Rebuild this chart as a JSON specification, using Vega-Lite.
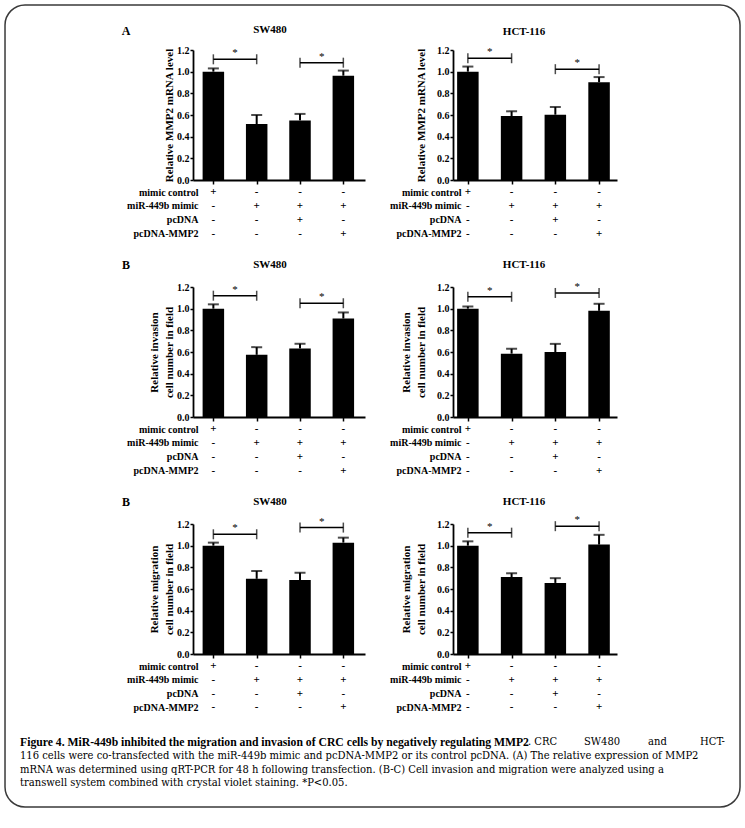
{
  "$schema": "https://vega.github.io/schema/vega-lite/v6.json",
  "padding": {"left": 4, "top": 4, "right": 4, "bottom": 4},
  "autosize": {"type": "pad"},
  "background": "white",
  "config": {
    "view": {"stroke": null},
    "font": "Liberation Serif",
    "axis": {"grid": false, "labelOverlap": false, "labelFlush": false, "domainColor": "black", "tickColor": "black", "labelColor": "black", "titleColor": "black", "labelFont": "Liberation Serif", "titleFont": "Liberation Serif", "labelFontWeight": "bold", "titleFontWeight": "bold", "labelFontSize": 10, "titleFontSize": 11, "domainWidth": 1.8, "tickWidth": 1.5, "titleLineHeight": 15},
    "axisY": {"tickSize": 3, "labelPadding": 1},
    "text": {"font": "Liberation Serif", "color": "black"},
    "tick": {"color": "black"}
  },
  "datasets": {
    "bars": [
      {"panel": "A-SW", "group": 1, "mean": 1.0, "upper": 1.03},
      {"panel": "A-SW", "group": 2, "mean": 0.517, "upper": 0.6},
      {"panel": "A-SW", "group": 3, "mean": 0.55, "upper": 0.61},
      {"panel": "A-SW", "group": 4, "mean": 0.963, "upper": 1.01},
      {"panel": "A-HCT", "group": 1, "mean": 1.0, "upper": 1.047},
      {"panel": "A-HCT", "group": 2, "mean": 0.59, "upper": 0.634},
      {"panel": "A-HCT", "group": 3, "mean": 0.603, "upper": 0.674},
      {"panel": "A-HCT", "group": 4, "mean": 0.903, "upper": 0.95},
      {"panel": "B-SW", "group": 1, "mean": 1.0, "upper": 1.04},
      {"panel": "B-SW", "group": 2, "mean": 0.574, "upper": 0.645},
      {"panel": "B-SW", "group": 3, "mean": 0.633, "upper": 0.676},
      {"panel": "B-SW", "group": 4, "mean": 0.909, "upper": 0.965},
      {"panel": "B-HCT", "group": 1, "mean": 1.0, "upper": 1.02},
      {"panel": "B-HCT", "group": 2, "mean": 0.585, "upper": 0.63},
      {"panel": "B-HCT", "group": 3, "mean": 0.6, "upper": 0.675},
      {"panel": "B-HCT", "group": 4, "mean": 0.98, "upper": 1.045},
      {"panel": "C-SW", "group": 1, "mean": 1.0, "upper": 1.028},
      {"panel": "C-SW", "group": 2, "mean": 0.694, "upper": 0.766},
      {"panel": "C-SW", "group": 3, "mean": 0.682, "upper": 0.75},
      {"panel": "C-SW", "group": 4, "mean": 1.028, "upper": 1.074},
      {"panel": "C-HCT", "group": 1, "mean": 1.0, "upper": 1.04},
      {"panel": "C-HCT", "group": 2, "mean": 0.71, "upper": 0.745},
      {"panel": "C-HCT", "group": 3, "mean": 0.656, "upper": 0.7},
      {"panel": "C-HCT", "group": 4, "mean": 1.01, "upper": 1.1}
    ],
    "brackets": [
      {"panel": "A-SW", "from": 1, "to": 2, "level": 1.114},
      {"panel": "A-SW", "from": 3, "to": 4, "level": 1.083},
      {"panel": "A-HCT", "from": 1, "to": 2, "level": 1.124},
      {"panel": "A-HCT", "from": 3, "to": 4, "level": 1.023},
      {"panel": "B-SW", "from": 1, "to": 2, "level": 1.12},
      {"panel": "B-SW", "from": 3, "to": 4, "level": 1.05},
      {"panel": "B-HCT", "from": 1, "to": 2, "level": 1.11},
      {"panel": "B-HCT", "from": 3, "to": 4, "level": 1.145},
      {"panel": "C-SW", "from": 1, "to": 2, "level": 1.105},
      {"panel": "C-SW", "from": 3, "to": 4, "level": 1.167},
      {"panel": "C-HCT", "from": 1, "to": 2, "level": 1.12},
      {"panel": "C-HCT", "from": 3, "to": 4, "level": 1.18}
    ],
    "design": [
      {"group": 1, "factor": "mimic control", "sign": "+"},
      {"group": 1, "factor": "miR-449b mimic", "sign": "-"},
      {"group": 1, "factor": "pcDNA", "sign": "-"},
      {"group": 1, "factor": "pcDNA-MMP2", "sign": "-"},
      {"group": 2, "factor": "mimic control", "sign": "-"},
      {"group": 2, "factor": "miR-449b mimic", "sign": "+"},
      {"group": 2, "factor": "pcDNA", "sign": "-"},
      {"group": 2, "factor": "pcDNA-MMP2", "sign": "-"},
      {"group": 3, "factor": "mimic control", "sign": "-"},
      {"group": 3, "factor": "miR-449b mimic", "sign": "+"},
      {"group": 3, "factor": "pcDNA", "sign": "+"},
      {"group": 3, "factor": "pcDNA-MMP2", "sign": "-"},
      {"group": 4, "factor": "mimic control", "sign": "-"},
      {"group": 4, "factor": "miR-449b mimic", "sign": "+"},
      {"group": 4, "factor": "pcDNA", "sign": "-"},
      {"group": 4, "factor": "pcDNA-MMP2", "sign": "+"}
    ],
    "caption": [
      {"line": 1, "part": "bold", "text": "Figure 4. MiR-449b inhibited the migration and invasion of CRC cells by negatively regulating MMP2"},
      {"line": 1, "part": "t1", "text": ". CRC"},
      {"line": 1, "part": "t2", "text": "SW480"},
      {"line": 1, "part": "t3", "text": "and"},
      {"line": 1, "part": "t4", "text": "HCT-"},
      {"line": 2, "part": "plain", "text": "116 cells were co-transfected with the miR-449b mimic and pcDNA-MMP2 or its control pcDNA. (A) The relative expression of MMP2"},
      {"line": 3, "part": "plain", "text": "mRNA was determined using qRT-PCR for 48 h following transfection. (B-C) Cell invasion and migration were analyzed using a"},
      {"line": 4, "part": "plain", "text": "transwell system combined with crystal violet staining. *P<0.05."}
    ]
  },
  "concat": [
    {
      "width": 172, "height": 130,
      "layer": [
        {"data": {"name": "bars"}, "transform": [{"filter": "datum.panel === 'A-SW'"}],
         "mark": {"type": "bar", "width": 21.5, "color": "black"},
         "encoding": {
           "x": {"field": "group", "type": "quantitative", "scale": {"domain": [0.53, 4.5], "nice": false, "zero": false, "padding": 0}, "axis": {"values": [1, 2, 3, 4], "tickCount": 10, "labels": false, "title": null, "tickSize": 4}},
           "y": {"field": "mean", "type": "quantitative", "scale": {"domain": [0, 1.2], "nice": false, "padding": 0}, "axis": {"values": [0, 0.2, 0.4, 0.6, 0.8, 1, 1.2], "tickCount": 10, "labelOverlap": false, "format": ".1f", "title": "Relative MMP2 mRNA level", "titlePadding": 2}}}},
        {"data": {"name": "bars"}, "transform": [{"filter": "datum.panel === 'A-SW'"}],
         "mark": {"type": "rule", "strokeWidth": 2, "color": "black"},
         "encoding": {"x": {"field": "group", "type": "quantitative"}, "y": {"field": "mean", "type": "quantitative"}, "y2": {"field": "upper"}}},
        {"data": {"name": "bars"}, "transform": [{"filter": "datum.panel === 'A-SW'"}],
         "mark": {"type": "tick", "orient": "horizontal", "size": 11, "thickness": 2, "color": "black"},
         "encoding": {"x": {"field": "group", "type": "quantitative"}, "y": {"field": "upper", "type": "quantitative"}}},
        {"data": {"name": "brackets"}, "transform": [{"filter": "datum.panel === 'A-SW'"}],
         "mark": {"type": "rule", "strokeWidth": 1.5, "color": "black"},
         "encoding": {"x": {"field": "from", "type": "quantitative"}, "x2": {"field": "to"}, "y": {"field": "level", "type": "quantitative"}}},
        {"data": {"name": "brackets"}, "transform": [{"filter": "datum.panel === 'A-SW'"}, {"fold": ["from", "to"], "as": ["end", "xpos"]}],
         "mark": {"type": "tick", "orient": "vertical", "size": 10, "thickness": 1.5, "color": "black"},
         "encoding": {"x": {"field": "xpos", "type": "quantitative"}, "y": {"field": "level", "type": "quantitative"}}},
        {"data": {"name": "brackets"}, "transform": [{"filter": "datum.panel === 'A-SW'"}, {"fold": ["from", "to"], "as": ["end", "xpos"]}],
         "mark": {"type": "text", "text": "*", "fontSize": 11, "dy": -6},
         "encoding": {"x": {"aggregate": "mean", "field": "xpos", "type": "quantitative"}, "y": {"field": "level", "type": "quantitative"}}},
        {"data": {"values": [{}]}, "mark": {"type": "text", "text": "SW480", "fontSize": 11, "fontWeight": "bold"},
         "encoding": {"x": {"datum": 2.307}, "y": {"datum": 1.385}}},
        {"data": {"values": [{}]}, "mark": {"type": "text", "text": "A", "fontSize": 12, "fontWeight": "bold"},
         "encoding": {"x": {"datum": -1.016}, "y": {"datum": 1.375}}},
        {"data": {"values": [{}]}, "mark": {"type": "rect", "filled": false, "stroke": "#3a3a3a", "strokeWidth": 1.5, "cornerRadius": 20},
         "encoding": {"x": {"datum": -3.809}, "x2": {"datum": 13.156}, "y": {"datum": 1.6154}, "y2": {"datum": -5.7877}}}
      ]
    },
    {
      "width": 164, "height": 130,
      "layer": [
        {"data": {"name": "bars"}, "transform": [{"filter": "datum.panel === 'A-HCT'"}],
         "mark": {"type": "bar", "width": 21.5, "color": "black"},
         "encoding": {
           "x": {"field": "group", "type": "quantitative", "scale": {"domain": [0.66, 4.41], "nice": false, "zero": false, "padding": 0}, "axis": {"values": [1, 2, 3, 4], "tickCount": 10, "labels": false, "title": null, "tickSize": 4}},
           "y": {"field": "mean", "type": "quantitative", "scale": {"domain": [0, 1.2], "nice": false, "padding": 0}, "axis": {"values": [0, 0.2, 0.4, 0.6, 0.8, 1, 1.2], "tickCount": 10, "labelOverlap": false, "format": ".1f", "title": "Relative MMP2 mRNA level", "titlePadding": 10}}}},
        {"data": {"name": "bars"}, "transform": [{"filter": "datum.panel === 'A-HCT'"}],
         "mark": {"type": "rule", "strokeWidth": 2, "color": "black"},
         "encoding": {"x": {"field": "group", "type": "quantitative"}, "y": {"field": "mean", "type": "quantitative"}, "y2": {"field": "upper"}}},
        {"data": {"name": "bars"}, "transform": [{"filter": "datum.panel === 'A-HCT'"}],
         "mark": {"type": "tick", "orient": "horizontal", "size": 11, "thickness": 2, "color": "black"},
         "encoding": {"x": {"field": "group", "type": "quantitative"}, "y": {"field": "upper", "type": "quantitative"}}},
        {"data": {"name": "brackets"}, "transform": [{"filter": "datum.panel === 'A-HCT'"}],
         "mark": {"type": "rule", "strokeWidth": 1.5, "color": "black"},
         "encoding": {"x": {"field": "from", "type": "quantitative"}, "x2": {"field": "to"}, "y": {"field": "level", "type": "quantitative"}}},
        {"data": {"name": "brackets"}, "transform": [{"filter": "datum.panel === 'A-HCT'"}, {"fold": ["from", "to"], "as": ["end", "xpos"]}],
         "mark": {"type": "tick", "orient": "vertical", "size": 10, "thickness": 1.5, "color": "black"},
         "encoding": {"x": {"field": "xpos", "type": "quantitative"}, "y": {"field": "level", "type": "quantitative"}}},
        {"data": {"name": "brackets"}, "transform": [{"filter": "datum.panel === 'A-HCT'"}, {"fold": ["from", "to"], "as": ["end", "xpos"]}],
         "mark": {"type": "text", "text": "*", "fontSize": 11, "dy": -6},
         "encoding": {"x": {"aggregate": "mean", "field": "xpos", "type": "quantitative"}, "y": {"field": "level", "type": "quantitative"}}},
        {"data": {"values": [{}]}, "mark": {"type": "text", "text": "HCT-116", "fontSize": 11, "fontWeight": "bold"},
         "encoding": {"x": {"datum": 2.284}, "y": {"datum": 1.37}}}
      ]
    },
    {
      "width": 172, "height": 83, "data": {"name": "design"},
      "mark": {"type": "text", "fontSize": 11, "fontWeight": "bold"},
      "encoding": {
        "x": {"field": "group", "type": "quantitative", "scale": {"domain": [0.53, 4.5], "nice": false, "zero": false, "padding": 0}, "axis": null},
        "y": {"field": "factor", "type": "nominal", "scale": {"type": "point", "domain": ["mimic control", "miR-449b mimic", "pcDNA", "pcDNA-MMP2", " ", "  ", "   "], "padding": 0, "align": 0}, "axis": {"title": null, "domain": false, "ticks": false, "tickSize": 0, "labelPadding": -5}},
        "text": {"field": "sign"}
      }
    },
    {
      "width": 164, "height": 83, "data": {"name": "design"},
      "mark": {"type": "text", "fontSize": 11, "fontWeight": "bold"},
      "encoding": {
        "x": {"field": "group", "type": "quantitative", "scale": {"domain": [0.66, 4.41], "nice": false, "zero": false, "padding": 0}, "axis": null},
        "y": {"field": "factor", "type": "nominal", "scale": {"type": "point", "domain": ["mimic control", "miR-449b mimic", "pcDNA", "pcDNA-MMP2", " ", "  ", "   "], "padding": 0, "align": 0}, "axis": {"title": null, "domain": false, "ticks": false, "tickSize": 0, "labelPadding": -8}},
        "text": {"field": "sign"}
      }
    },
    {
      "width": 172, "height": 130,
      "layer": [
        {"data": {"name": "bars"}, "transform": [{"filter": "datum.panel === 'B-SW'"}],
         "mark": {"type": "bar", "width": 21.5, "color": "black"},
         "encoding": {
           "x": {"field": "group", "type": "quantitative", "scale": {"domain": [0.53, 4.5], "nice": false, "zero": false, "padding": 0}, "axis": {"values": [1, 2, 3, 4], "tickCount": 10, "labels": false, "title": null, "tickSize": 4}},
           "y": {"field": "mean", "type": "quantitative", "scale": {"domain": [0, 1.2], "nice": false, "padding": 0}, "axis": {"values": [0, 0.2, 0.4, 0.6, 0.8, 1, 1.2], "tickCount": 10, "labelOverlap": false, "format": ".1f", "title": ["Relative invasion", "cell number in field"], "titlePadding": 2}}}},
        {"data": {"name": "bars"}, "transform": [{"filter": "datum.panel === 'B-SW'"}],
         "mark": {"type": "rule", "strokeWidth": 2, "color": "black"},
         "encoding": {"x": {"field": "group", "type": "quantitative"}, "y": {"field": "mean", "type": "quantitative"}, "y2": {"field": "upper"}}},
        {"data": {"name": "bars"}, "transform": [{"filter": "datum.panel === 'B-SW'"}],
         "mark": {"type": "tick", "orient": "horizontal", "size": 11, "thickness": 2, "color": "black"},
         "encoding": {"x": {"field": "group", "type": "quantitative"}, "y": {"field": "upper", "type": "quantitative"}}},
        {"data": {"name": "brackets"}, "transform": [{"filter": "datum.panel === 'B-SW'"}],
         "mark": {"type": "rule", "strokeWidth": 1.5, "color": "black"},
         "encoding": {"x": {"field": "from", "type": "quantitative"}, "x2": {"field": "to"}, "y": {"field": "level", "type": "quantitative"}}},
        {"data": {"name": "brackets"}, "transform": [{"filter": "datum.panel === 'B-SW'"}, {"fold": ["from", "to"], "as": ["end", "xpos"]}],
         "mark": {"type": "tick", "orient": "vertical", "size": 10, "thickness": 1.5, "color": "black"},
         "encoding": {"x": {"field": "xpos", "type": "quantitative"}, "y": {"field": "level", "type": "quantitative"}}},
        {"data": {"name": "brackets"}, "transform": [{"filter": "datum.panel === 'B-SW'"}, {"fold": ["from", "to"], "as": ["end", "xpos"]}],
         "mark": {"type": "text", "text": "*", "fontSize": 11, "dy": -6},
         "encoding": {"x": {"aggregate": "mean", "field": "xpos", "type": "quantitative"}, "y": {"field": "level", "type": "quantitative"}}},
        {"data": {"values": [{}]}, "mark": {"type": "text", "text": "SW480", "fontSize": 11, "fontWeight": "bold"},
         "encoding": {"x": {"datum": 2.307}, "y": {"datum": 1.4}}},
        {"data": {"values": [{}]}, "mark": {"type": "text", "text": "B", "fontSize": 12, "fontWeight": "bold"},
         "encoding": {"x": {"datum": -1.016}, "y": {"datum": 1.4}}}
      ]
    },
    {
      "width": 164, "height": 130,
      "layer": [
        {"data": {"name": "bars"}, "transform": [{"filter": "datum.panel === 'B-HCT'"}],
         "mark": {"type": "bar", "width": 21.5, "color": "black"},
         "encoding": {
           "x": {"field": "group", "type": "quantitative", "scale": {"domain": [0.66, 4.41], "nice": false, "zero": false, "padding": 0}, "axis": {"values": [1, 2, 3, 4], "tickCount": 10, "labels": false, "title": null, "tickSize": 4}},
           "y": {"field": "mean", "type": "quantitative", "scale": {"domain": [0, 1.2], "nice": false, "padding": 0}, "axis": {"values": [0, 0.2, 0.4, 0.6, 0.8, 1, 1.2], "tickCount": 10, "labelOverlap": false, "format": ".1f", "title": ["Relative invasion", "cell number in field"], "titlePadding": 10}}}},
        {"data": {"name": "bars"}, "transform": [{"filter": "datum.panel === 'B-HCT'"}],
         "mark": {"type": "rule", "strokeWidth": 2, "color": "black"},
         "encoding": {"x": {"field": "group", "type": "quantitative"}, "y": {"field": "mean", "type": "quantitative"}, "y2": {"field": "upper"}}},
        {"data": {"name": "bars"}, "transform": [{"filter": "datum.panel === 'B-HCT'"}],
         "mark": {"type": "tick", "orient": "horizontal", "size": 11, "thickness": 2, "color": "black"},
         "encoding": {"x": {"field": "group", "type": "quantitative"}, "y": {"field": "upper", "type": "quantitative"}}},
        {"data": {"name": "brackets"}, "transform": [{"filter": "datum.panel === 'B-HCT'"}],
         "mark": {"type": "rule", "strokeWidth": 1.5, "color": "black"},
         "encoding": {"x": {"field": "from", "type": "quantitative"}, "x2": {"field": "to"}, "y": {"field": "level", "type": "quantitative"}}},
        {"data": {"name": "brackets"}, "transform": [{"filter": "datum.panel === 'B-HCT'"}, {"fold": ["from", "to"], "as": ["end", "xpos"]}],
         "mark": {"type": "tick", "orient": "vertical", "size": 10, "thickness": 1.5, "color": "black"},
         "encoding": {"x": {"field": "xpos", "type": "quantitative"}, "y": {"field": "level", "type": "quantitative"}}},
        {"data": {"name": "brackets"}, "transform": [{"filter": "datum.panel === 'B-HCT'"}, {"fold": ["from", "to"], "as": ["end", "xpos"]}],
         "mark": {"type": "text", "text": "*", "fontSize": 11, "dy": -6},
         "encoding": {"x": {"aggregate": "mean", "field": "xpos", "type": "quantitative"}, "y": {"field": "level", "type": "quantitative"}}},
        {"data": {"values": [{}]}, "mark": {"type": "text", "text": "HCT-116", "fontSize": 11, "fontWeight": "bold"},
         "encoding": {"x": {"datum": 2.284}, "y": {"datum": 1.4}}}
      ]
    },
    {
      "width": 172, "height": 83, "data": {"name": "design"},
      "mark": {"type": "text", "fontSize": 11, "fontWeight": "bold"},
      "encoding": {
        "x": {"field": "group", "type": "quantitative", "scale": {"domain": [0.53, 4.5], "nice": false, "zero": false, "padding": 0}, "axis": null},
        "y": {"field": "factor", "type": "nominal", "scale": {"type": "point", "domain": ["mimic control", "miR-449b mimic", "pcDNA", "pcDNA-MMP2", " ", "  ", "   "], "padding": 0, "align": 0}, "axis": {"title": null, "domain": false, "ticks": false, "tickSize": 0, "labelPadding": -5}},
        "text": {"field": "sign"}
      }
    },
    {
      "width": 164, "height": 83, "data": {"name": "design"},
      "mark": {"type": "text", "fontSize": 11, "fontWeight": "bold"},
      "encoding": {
        "x": {"field": "group", "type": "quantitative", "scale": {"domain": [0.66, 4.41], "nice": false, "zero": false, "padding": 0}, "axis": null},
        "y": {"field": "factor", "type": "nominal", "scale": {"type": "point", "domain": ["mimic control", "miR-449b mimic", "pcDNA", "pcDNA-MMP2", " ", "  ", "   "], "padding": 0, "align": 0}, "axis": {"title": null, "domain": false, "ticks": false, "tickSize": 0, "labelPadding": -8}},
        "text": {"field": "sign"}
      }
    },
    {
      "width": 172, "height": 130,
      "layer": [
        {"data": {"name": "bars"}, "transform": [{"filter": "datum.panel === 'C-SW'"}],
         "mark": {"type": "bar", "width": 21.5, "color": "black"},
         "encoding": {
           "x": {"field": "group", "type": "quantitative", "scale": {"domain": [0.53, 4.5], "nice": false, "zero": false, "padding": 0}, "axis": {"values": [1, 2, 3, 4], "tickCount": 10, "labels": false, "title": null, "tickSize": 4}},
           "y": {"field": "mean", "type": "quantitative", "scale": {"domain": [0, 1.2], "nice": false, "padding": 0}, "axis": {"values": [0, 0.2, 0.4, 0.6, 0.8, 1, 1.2], "tickCount": 10, "labelOverlap": false, "format": ".1f", "title": ["Relative migration", "cell number in field"], "titlePadding": 2}}}},
        {"data": {"name": "bars"}, "transform": [{"filter": "datum.panel === 'C-SW'"}],
         "mark": {"type": "rule", "strokeWidth": 2, "color": "black"},
         "encoding": {"x": {"field": "group", "type": "quantitative"}, "y": {"field": "mean", "type": "quantitative"}, "y2": {"field": "upper"}}},
        {"data": {"name": "bars"}, "transform": [{"filter": "datum.panel === 'C-SW'"}],
         "mark": {"type": "tick", "orient": "horizontal", "size": 11, "thickness": 2, "color": "black"},
         "encoding": {"x": {"field": "group", "type": "quantitative"}, "y": {"field": "upper", "type": "quantitative"}}},
        {"data": {"name": "brackets"}, "transform": [{"filter": "datum.panel === 'C-SW'"}],
         "mark": {"type": "rule", "strokeWidth": 1.5, "color": "black"},
         "encoding": {"x": {"field": "from", "type": "quantitative"}, "x2": {"field": "to"}, "y": {"field": "level", "type": "quantitative"}}},
        {"data": {"name": "brackets"}, "transform": [{"filter": "datum.panel === 'C-SW'"}, {"fold": ["from", "to"], "as": ["end", "xpos"]}],
         "mark": {"type": "tick", "orient": "vertical", "size": 10, "thickness": 1.5, "color": "black"},
         "encoding": {"x": {"field": "xpos", "type": "quantitative"}, "y": {"field": "level", "type": "quantitative"}}},
        {"data": {"name": "brackets"}, "transform": [{"filter": "datum.panel === 'C-SW'"}, {"fold": ["from", "to"], "as": ["end", "xpos"]}],
         "mark": {"type": "text", "text": "*", "fontSize": 11, "dy": -6},
         "encoding": {"x": {"aggregate": "mean", "field": "xpos", "type": "quantitative"}, "y": {"field": "level", "type": "quantitative"}}},
        {"data": {"values": [{}]}, "mark": {"type": "text", "text": "SW480", "fontSize": 11, "fontWeight": "bold"},
         "encoding": {"x": {"datum": 2.307}, "y": {"datum": 1.4}}},
        {"data": {"values": [{}]}, "mark": {"type": "text", "text": "B", "fontSize": 12, "fontWeight": "bold"},
         "encoding": {"x": {"datum": -1.016}, "y": {"datum": 1.4}}}
      ]
    },
    {
      "width": 164, "height": 130,
      "layer": [
        {"data": {"name": "bars"}, "transform": [{"filter": "datum.panel === 'C-HCT'"}],
         "mark": {"type": "bar", "width": 21.5, "color": "black"},
         "encoding": {
           "x": {"field": "group", "type": "quantitative", "scale": {"domain": [0.66, 4.41], "nice": false, "zero": false, "padding": 0}, "axis": {"values": [1, 2, 3, 4], "tickCount": 10, "labels": false, "title": null, "tickSize": 4}},
           "y": {"field": "mean", "type": "quantitative", "scale": {"domain": [0, 1.2], "nice": false, "padding": 0}, "axis": {"values": [0, 0.2, 0.4, 0.6, 0.8, 1, 1.2], "tickCount": 10, "labelOverlap": false, "format": ".1f", "title": ["Relative migration", "cell number in field"], "titlePadding": 10}}}},
        {"data": {"name": "bars"}, "transform": [{"filter": "datum.panel === 'C-HCT'"}],
         "mark": {"type": "rule", "strokeWidth": 2, "color": "black"},
         "encoding": {"x": {"field": "group", "type": "quantitative"}, "y": {"field": "mean", "type": "quantitative"}, "y2": {"field": "upper"}}},
        {"data": {"name": "bars"}, "transform": [{"filter": "datum.panel === 'C-HCT'"}],
         "mark": {"type": "tick", "orient": "horizontal", "size": 11, "thickness": 2, "color": "black"},
         "encoding": {"x": {"field": "group", "type": "quantitative"}, "y": {"field": "upper", "type": "quantitative"}}},
        {"data": {"name": "brackets"}, "transform": [{"filter": "datum.panel === 'C-HCT'"}],
         "mark": {"type": "rule", "strokeWidth": 1.5, "color": "black"},
         "encoding": {"x": {"field": "from", "type": "quantitative"}, "x2": {"field": "to"}, "y": {"field": "level", "type": "quantitative"}}},
        {"data": {"name": "brackets"}, "transform": [{"filter": "datum.panel === 'C-HCT'"}, {"fold": ["from", "to"], "as": ["end", "xpos"]}],
         "mark": {"type": "tick", "orient": "vertical", "size": 10, "thickness": 1.5, "color": "black"},
         "encoding": {"x": {"field": "xpos", "type": "quantitative"}, "y": {"field": "level", "type": "quantitative"}}},
        {"data": {"name": "brackets"}, "transform": [{"filter": "datum.panel === 'C-HCT'"}, {"fold": ["from", "to"], "as": ["end", "xpos"]}],
         "mark": {"type": "text", "text": "*", "fontSize": 11, "dy": -6},
         "encoding": {"x": {"aggregate": "mean", "field": "xpos", "type": "quantitative"}, "y": {"field": "level", "type": "quantitative"}}},
        {"data": {"values": [{}]}, "mark": {"type": "text", "text": "HCT-116", "fontSize": 11, "fontWeight": "bold"},
         "encoding": {"x": {"datum": 2.284}, "y": {"datum": 1.4}}}
      ]
    },
    {
      "width": 172, "height": 64, "data": {"name": "design"},
      "mark": {"type": "text", "fontSize": 11, "fontWeight": "bold"},
      "encoding": {
        "x": {"field": "group", "type": "quantitative", "scale": {"domain": [0.53, 4.5], "nice": false, "zero": false, "padding": 0}, "axis": null},
        "y": {"field": "factor", "type": "nominal", "scale": {"type": "point", "domain": ["mimic control", "miR-449b mimic", "pcDNA", "pcDNA-MMP2"], "padding": 0.814, "align": 0}, "axis": {"title": null, "domain": false, "ticks": false, "tickSize": 0, "labelPadding": -5}},
        "text": {"field": "sign"}
      }
    },
    {
      "width": 164, "height": 64, "data": {"name": "design"},
      "mark": {"type": "text", "fontSize": 11, "fontWeight": "bold"},
      "encoding": {
        "x": {"field": "group", "type": "quantitative", "scale": {"domain": [0.66, 4.41], "nice": false, "zero": false, "padding": 0}, "axis": null},
        "y": {"field": "factor", "type": "nominal", "scale": {"type": "point", "domain": ["mimic control", "miR-449b mimic", "pcDNA", "pcDNA-MMP2"], "padding": 0.814, "align": 0}, "axis": {"title": null, "domain": false, "ticks": false, "tickSize": 0, "labelPadding": -8}},
        "text": {"field": "sign"}
      }
    },
    {
      "width": 172, "height": 55.2, "data": {"name": "caption"},
      "layer": [
        {"transform": [{"filter": "datum.part === 'bold'"}],
         "mark": {"type": "text", "align": "left", "fontWeight": "bold", "fontSize": 11.7, "font": "Liberation Serif"},
         "encoding": {"x": {"datum": 0, "type": "quantitative", "scale": {"domain": [173, 345], "nice": false, "zero": false, "padding": 0}, "axis": null},
                      "y": {"field": "line", "type": "ordinal", "scale": {"type": "point", "domain": [1, 2, 3, 4], "padding": 0.5, "align": 0}, "axis": null},
                      "text": {"field": "text"}}},
        {"transform": [{"filter": "datum.part === 'plain'"}],
         "mark": {"type": "text", "align": "left", "fontSize": 11.1, "font": "DejaVu Serif Condensed, Liberation Serif"},
         "encoding": {"x": {"datum": 0, "type": "quantitative"}, "y": {"field": "line", "type": "ordinal"}, "text": {"field": "text"}}},
        {"transform": [{"filter": "datum.part === 't1'"}],
         "mark": {"type": "text", "align": "left", "fontSize": 11.1, "font": "DejaVu Serif Condensed, Liberation Serif"},
         "encoding": {"x": {"datum": 508, "type": "quantitative"}, "y": {"field": "line", "type": "ordinal"}, "text": {"field": "text"}}},
        {"transform": [{"filter": "datum.part === 't2'"}],
         "mark": {"type": "text", "align": "left", "fontSize": 11.1, "font": "DejaVu Serif Condensed, Liberation Serif"},
         "encoding": {"x": {"datum": 564, "type": "quantitative"}, "y": {"field": "line", "type": "ordinal"}, "text": {"field": "text"}}},
        {"transform": [{"filter": "datum.part === 't3'"}],
         "mark": {"type": "text", "align": "left", "fontSize": 11.1, "font": "DejaVu Serif Condensed, Liberation Serif"},
         "encoding": {"x": {"datum": 628, "type": "quantitative"}, "y": {"field": "line", "type": "ordinal"}, "text": {"field": "text"}}},
        {"transform": [{"filter": "datum.part === 't4'"}],
         "mark": {"type": "text", "align": "right", "fontSize": 11.1, "font": "DejaVu Serif Condensed, Liberation Serif"},
         "encoding": {"x": {"datum": 705, "type": "quantitative"}, "y": {"field": "line", "type": "ordinal"}, "text": {"field": "text"}}}
      ]
    }
  ],
  "columns": 2,
  "spacing": {"row": 12, "column": 88},
  "bounds": "flush",
  "align": "each",
  "resolve": {"scale": {"x": "independent", "y": "independent"}}
}
